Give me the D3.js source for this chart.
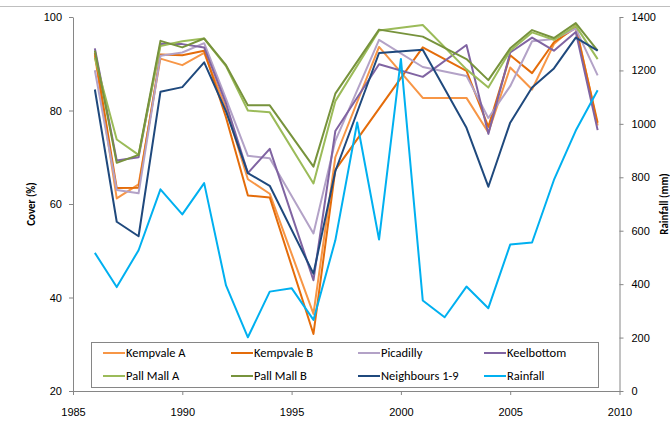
<!DOCTYPE html>
<html lang="en">
<head>
<meta charset="utf-8">
<title>Cover and rainfall</title>
<script src="https://d3js.org/d3.v7.min.js"></script>
<style>
    body { margin: 0; background: #fff; }
    svg { font-family: Carlito, Lato, "Open Sans", sans-serif; }
    .axis path, .axis line { stroke: #868686; }
    .axis text { font-size: 11px; fill: #000; }
    .line { fill: none; stroke-width: 2px; stroke-linejoin: round; }
    .legend text { font-size: 12.5px; fill: #000; }
    .title { font-size: 11px; font-weight: bold; }
</style>
</head>
<body>
<div id="chart"></div>
<script>

// data (null = no survey that year)
const years = [1986, 1987, 1988, 1989, 1990, 1991, 1992, 1993, 1994, 1995, 1996, 1997,
               1998, 1999, 2000, 2001, 2002, 2003, 2004, 2005, 2006, 2007, 2008, 2009];

const kempvaleA  = [91.8, 61.2, 64.2, 91.1, 89.7, 92.3, 80.5, 65.3, 62.2, null, 36.5, 70.0,
                    null, 93.6, null, 82.7, null, 82.7, 75.3, 89.2, 84.5, 94.2, 98.3, 76.8];
const kempvaleB  = [92.3, 63.4, 63.5, 92.0, 91.8, 92.8, 78.5, 61.8, 61.4, null, 32.2, 67.3,
                    null, null, null, 93.5, null, 88.5, 76.5, 91.8, 88.0, 94.6, 97.7, 77.4];
const picadilly  = [88.6, 63.0, 62.3, 91.7, 92.4, 94.4, 82.5, 70.3, 69.8, null, 53.7, 73.5,
                    null, 95.1, null, 89.3, null, 87.4, 78.4, 85.2, 94.8, 95.3, 97.5, 87.5];
const keelbottom = [93.3, 69.3, 70.0, 94.3, 94.2, 93.5, 81.5, 66.6, 71.8, null, 43.7, 75.6,
                    null, 89.9, null, 87.2, null, 94.0, 75.0, 92.4, 95.6, 92.8, 96.8, 75.8];
const pallMallA  = [91.3, 73.8, 70.5, 93.8, 94.8, 95.4, 89.5, 80.0, 79.6, null, 64.4, 82.0,
                    null, 97.1, null, 98.3, null, 88.8, 84.9, 92.8, 96.7, 95.1, 98.1, 91.0];
const pallMallB  = [92.8, 68.8, 70.5, 94.9, 93.5, 95.4, 89.7, 81.1, 81.1, null, 68.0, 83.6,
                    null, 97.3, null, 95.8, null, 91.0, 86.5, 93.3, 97.2, 95.5, 98.7, 92.8];
const neighbours = [84.5, 56.2, 53.1, 84.0, 85.0, 90.3, 79.8, 66.6, 63.9, null, 45.1, 67.0,
                    null, 92.3, null, 93.0, null, 76.3, 63.7, 77.4, 84.9, 89.0, 95.6, 92.8];
const rainfall   = [517, 389, 527, 755, 661, 778, 395, 201, 372, 385, 266, 564,
                    1005, 567, 1243, 339, 276, 391, 310, 548, 556, 790, 975, 1126];

const xTicks = [1985, 1990, 1995, 2000, 2005, 2010];
const coverTicks = [20, 40, 60, 80, 100];
const rainTicks = [0, 200, 400, 600, 800, 1000, 1200, 1400];

const series = [
    {name: "Kempvale A",    values: kempvaleA,  color: "#F79646", axis: "left"},
    {name: "Kempvale B",    values: kempvaleB,  color: "#E46C0A", axis: "left"},
    {name: "Picadilly",     values: picadilly,  color: "#B3A2C7", axis: "left"},
    {name: "Keelbottom",    values: keelbottom, color: "#8064A2", axis: "left"},
    {name: "Pall Mall A",   values: pallMallA,  color: "#9BBB59", axis: "left"},
    {name: "Pall Mall B",   values: pallMallB,  color: "#77933C", axis: "left"},
    {name: "Neighbours 1-9", values: neighbours, color: "#1F497D", axis: "left"},
    {name: "Rainfall",      values: rainfall,   color: "#00B0F0", axis: "right"}
];

const W = 670, H = 423;
const plot = {left: 73, right: 619.5, top: 17, bottom: 391};

const svg = d3.select("#chart")
  .append("svg")
    .attr("width", W)
    .attr("height", H);

// thin border of the chart area along the top
svg.append("line")
    .attr("x1", 0).attr("x2", W)
    .attr("y1", 6.5).attr("y2", 6.5)
    .attr("stroke", "#BFBFBF");

const x = d3.scaleLinear().domain([1985, 2010]).range([plot.left, plot.right]);
const yCover = d3.scaleLinear().domain([20, 100]).range([plot.bottom, plot.top]);
const yRain = d3.scaleLinear().domain([0, 1400]).range([plot.bottom, plot.top]);

// axes
svg.append("g")
    .attr("class", "axis")
    .attr("transform", `translate(0,${plot.bottom})`)
    .call(d3.axisBottom(x).tickValues(xTicks).tickFormat(d3.format("d"))
        .tickSizeInner(4).tickSizeOuter(0).tickPadding(13));

svg.append("g")
    .attr("class", "axis")
    .attr("transform", `translate(${plot.left},0)`)
    .call(d3.axisLeft(yCover).tickValues(coverTicks).tickFormat(d3.format("d"))
        .tickSizeInner(4).tickSizeOuter(0).tickPadding(7));

svg.append("g")
    .attr("class", "axis")
    .attr("transform", `translate(${plot.right},0)`)
    .call(d3.axisRight(yRain).tickValues(rainTicks).tickFormat(d3.format("d"))
        .tickSizeInner(4).tickSizeOuter(0).tickPadding(8));

// axis titles
svg.append("text")
    .attr("class", "title")
    .attr("transform", "translate(35,204) rotate(-90)")
    .attr("text-anchor", "middle")
    .text("Cover (%)");

svg.append("text")
    .attr("class", "title")
    .attr("transform", "translate(668,204) rotate(-90)")
    .attr("text-anchor", "middle")
    .text("Rainfall (mm)");

// lines
const lineGroup = svg.append("g");

series.forEach(function(s) {
    const yScale = s.axis === "left" ? yCover : yRain;
    const pts = years.map((yr, i) => ({year: yr, value: s.values[i]}))
        .filter(d => d.value !== null);
    lineGroup.append("path")
        .datum(pts)
        .attr("class", "line")
        .attr("stroke", s.color)
        .attr("d", d3.line().x(d => x(d.year)).y(d => yScale(d.value)));
});

// legend
const legend = svg.append("g").attr("class", "legend");

legend.append("rect")
    .attr("x", 91.5).attr("y", 342.5)
    .attr("width", 507).attr("height", 45)
    .attr("fill", "#fff")
    .attr("stroke", "#868686");

const colX = [103, 231, 358, 484];
const rowY = [353, 376];

const legendItems = legend.selectAll(".legend-item")
    .data(series)
    .enter()
    .append("g")
    .attr("class", "legend-item")
    .attr("transform", (d, i) => `translate(${colX[i % 4]},${rowY[Math.floor(i / 4)]})`);

legendItems.append("line")
    .attr("x1", 0).attr("x2", 22)
    .attr("stroke", d => d.color)
    .attr("stroke-width", 2);

legendItems.append("text")
    .attr("x", 23)
    .attr("dy", "0.35em")
    .text(d => d.name);

</script>
</body>
</html>
